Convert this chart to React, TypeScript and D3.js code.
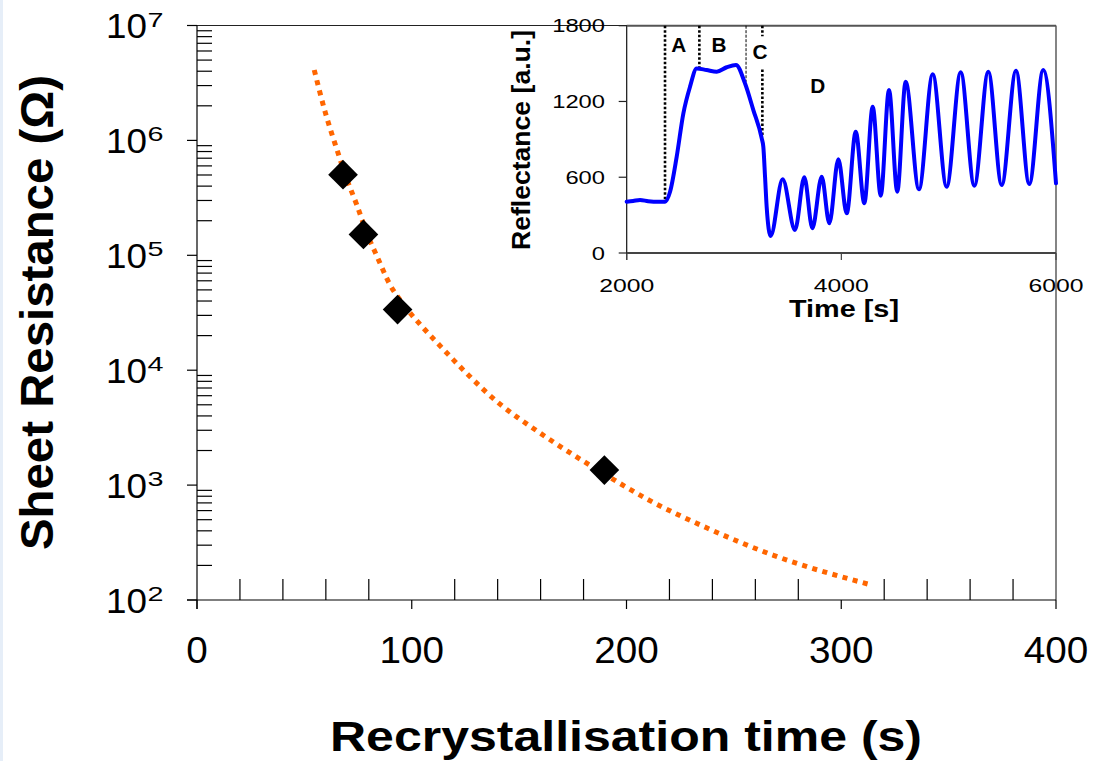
import React from "react";
import * as d3 from "d3";

// ---------- Main chart data ----------
const measTime = [68, 77.5, 93.4, 189.7];
const measR = [5.03e5, 1.52e5, 3.37e4, 1.35e3];

const fitTime = [54.6, 59.7, 65.8, 68.9, 74.4, 79.5, 83.7, 89.9, 95.6, 105.4, 112.4, 119.4, 126.7, 133.8, 141.4, 149.6, 157.9, 166.2, 187.7, 209.4, 237.3, 268.4, 313.4];
const fitR = [4.1e6, 1.76e6, 7.64e5, 5.08e5, 2.75e5, 1.49e5, 9.91e4, 5.53e4, 3.84e4, 2.33e4, 1.69e4, 1.23e4, 8950, 6670, 5010, 3840, 3000, 2355, 1318, 759, 425, 245, 136];

const xTicks = [0, 100, 200, 300, 400];
const xMinorTicks = [20, 40, 60, 80, 120, 140, 160, 180, 220, 240, 260, 280, 320, 340, 360, 380];
const yDecades = [2, 3, 4, 5, 6, 7];

// ---------- Inset data ----------
const inTime = [2000, 2060, 2124, 2200, 2300, 2357, 2404, 2466, 2528, 2590, 2652, 2745, 2839, 2932, 3018, 3102, 3180, 3258, 3273, 3289, 3304, 3341, 3453, 3568, 3655, 3730, 3817, 3888, 3972, 4050, 4134, 4214, 4292, 4367, 4444, 4521, 4599, 4723, 4851, 4981, 5112, 5239, 5369, 5494, 5627, 5751, 5881, 6000];
const inRefl = [406, 412, 420, 410, 405, 406, 485, 763, 1106, 1317, 1462, 1449, 1436, 1471, 1489, 1344, 1132, 908, 841, 604, 367, 135, 584, 182, 599, 196, 604, 235, 742, 314, 961, 394, 1159, 454, 1291, 486, 1357, 504, 1415, 525, 1431, 533, 1436, 539, 1444, 546, 1449, 552];

const inXTicks = [2000, 4000, 6000];
const inYTicks = [0, 600, 1200, 1800];

const phaseLabels = ["A", "B", "C", "D"];
const phaseLabelT = [2484, 2860, 3242, 3781];
const phaseLabelR = [1594, 1594, 1534, 1265];

// dotted phase boundaries: time, top, bottom
const boundT = [2357, 2677, 3112, 3264, 3264];
const boundTop = [1800, 1800, 1800, 1800, 1453];
const boundBot = [406, 1470, 1356, 1717, 920];
const boundThin = [false, false, true, false, false];

const FONT = "'Liberation Sans', Arial, Helvetica, sans-serif";

export default function App() {
  const W = 1104, H = 761;
  const x = d3.scaleLinear().domain([0, 400]).range([197, 1056]);
  const y = d3.scaleLog().domain([100, 1e7]).range([600, 25.5]);

  const xi = d3.scaleLinear().domain([2000, 6000]).range([626.7, 1056]);
  const yi = d3.scaleLinear().domain([0, 1800]).range([253, 25.7]);

  const fitLine = d3
    .line<number>()
    .x((_, i) => x(fitTime[i]))
    .y((d) => y(d))
    .curve(d3.curveMonotoneX)(fitR) as string;

  const inLine = d3
    .line<number>()
    .x((_, i) => xi(inTime[i]))
    .y((d) => yi(d))
    .curve(d3.curveMonotoneX)(inRefl) as string;

  const diamond = d3.symbol().type(d3.symbolSquare).size(440)() as string;

  const minorY: number[] = [];
  yDecades.slice(0, -1).forEach((e) => {
    for (let k = 2; k <= 9; k++) minorY.push(k * Math.pow(10, e));
  });

  const x0 = x(0), y0 = y(100), yTop = y(1e7), xR = x(400);

  return (
    <svg
      width={W}
      height={H}
      style={{ position: "absolute", left: 0, top: 0, background: "#fff" }}
      fontFamily={FONT}
    >
      <rect x={0} y={0} width={W} height={H} fill="#fff" />
      <rect x={0} y={0} width={3} height={H} fill="#e6eef8" />

      {/* main frame */}
      <line x1={187} x2={xR} y1={yTop} y2={yTop} stroke="#222" strokeWidth={1.2} />
      <line x1={xR} x2={xR} y1={yTop} y2={y0} stroke="#333" strokeWidth={1.2} />
      <line x1={x0} x2={x0} y1={yTop} y2={y0 + 9} stroke="#000" strokeWidth={1.2} />
      <line x1={187} x2={xR} y1={y0} y2={y0} stroke="#000" strokeWidth={1.2} />

      {/* y ticks */}
      {yDecades.map((e) => (
        <line key={"yt" + e} x1={187} x2={x0} y1={y(Math.pow(10, e))} y2={y(Math.pow(10, e))} stroke="#000" strokeWidth={1.2} />
      ))}
      {minorY.map((v, i) => (
        <line key={"ym" + i} x1={x0} x2={x0 + 15} y1={y(v)} y2={y(v)} stroke="#000" strokeWidth={1.2} />
      ))}
      {yDecades.map((e) => (
        <g key={"yl" + e}>
          <text x={147} y={y(Math.pow(10, e)) + 12.5} fontSize={35} textAnchor="end" textLength={41} lengthAdjust="spacingAndGlyphs" fill="#000">
            10
          </text>
          <text x={147.5} y={y(Math.pow(10, e)) + 1} fontSize={21} textAnchor="start" textLength={16} lengthAdjust="spacingAndGlyphs" fill="#000">
            {e}
          </text>
        </g>
      ))}

      {/* x ticks */}
      {xTicks.map((v) => (
        <line key={"xt" + v} x1={x(v)} x2={x(v)} y1={y0} y2={y0 + 9} stroke="#000" strokeWidth={1.2} />
      ))}
      {xMinorTicks.map((v) => (
        <line key={"xm" + v} x1={x(v)} x2={x(v)} y1={y0 - 21} y2={y0} stroke="#000" strokeWidth={1.2} />
      ))}
      {xTicks.map((v) => (
        <text key={"xl" + v} x={x(v)} y={663} fontSize={37} textAnchor="middle" textLength={String(v).length * 21.5} lengthAdjust="spacingAndGlyphs" fill="#000">
          {v}
        </text>
      ))}

      {/* axis titles */}
      <text x={626} y={751} fontSize={42} fontWeight="bold" textAnchor="middle" textLength={592} lengthAdjust="spacingAndGlyphs" fill="#000">
        Recrystallisation time (s)
      </text>
      <text transform="translate(53,312.5) rotate(-90)" fontSize={47} fontWeight="bold" textAnchor="middle" textLength={475} lengthAdjust="spacingAndGlyphs" fill="#000">
        Sheet Resistance (Ω)
      </text>

      {/* fit curve */}
      <path d={fitLine} fill="none" stroke="#FF6600" strokeWidth={5} strokeDasharray="5,5.5" />

      {/* measured points */}
      {measR.map((v, i) => (
        <path key={"pt" + i} d={diamond} transform={`translate(${x(measTime[i])},${y(v)}) rotate(45)`} fill="#000" />
      ))}

      {/* ---------- inset ---------- */}
      <line x1={xi(2000)} x2={xi(2000)} y1={yi(1800)} y2={yi(0) + 7} stroke="#111" strokeWidth={1.2} />
      <line x1={xi(2000)} x2={xi(6000)} y1={yi(0)} y2={yi(0)} stroke="#444" strokeWidth={2} />
      <line x1={xi(2000)} x2={xi(6000)} y1={yi(1800)} y2={yi(1800)} stroke="#555" strokeWidth={2} />
      {inXTicks.map((v) => (
        <line key={"ixt" + v} x1={xi(v)} x2={xi(v)} y1={yi(0)} y2={yi(0) + 7} stroke="#444" strokeWidth={1.2} />
      ))}
      {inYTicks.map((v) => (
        <line key={"iyt" + v} x1={xi(2000) - 8} x2={xi(2000)} y1={yi(v)} y2={yi(v)} stroke="#222" strokeWidth={1.2} />
      ))}
      {inYTicks.map((v) => (
        <text key={"iyl" + v} x={605} y={yi(v) + 6.5} fontSize={19} textAnchor="end" textLength={String(v).length * 13.2} lengthAdjust="spacingAndGlyphs" fill="#000">
          {v}
        </text>
      ))}
      {inXTicks.map((v) => (
        <text key={"ixl" + v} x={xi(v)} y={292} fontSize={19} textAnchor="middle" textLength={55} lengthAdjust="spacingAndGlyphs" fill="#000">
          {v}
        </text>
      ))}
      <text x={844} y={317} fontSize={23} fontWeight="bold" textAnchor="middle" textLength={110} lengthAdjust="spacingAndGlyphs" fill="#000">
        Time [s]
      </text>
      <text transform="translate(530,140) rotate(-90)" fontSize={25} fontWeight="bold" textAnchor="middle" textLength={220} lengthAdjust="spacingAndGlyphs" fill="#000">
        Reflectance [a.u.]
      </text>

      {/* phase boundaries */}
      {boundT.map((t, i) => (
        <line
          key={"b" + i}
          x1={xi(t)}
          x2={xi(t)}
          y1={yi(boundTop[i])}
          y2={yi(boundBot[i])}
          stroke="#000"
          strokeWidth={boundThin[i] ? 1 : 2.6}
          strokeDasharray={boundThin[i] ? "3,1.5" : "2.5,2"}
        />
      ))}
      {phaseLabels.map((l, i) => (
        <text key={"pl" + l} x={xi(phaseLabelT[i])} y={yi(phaseLabelR[i])} fontSize={20} fontWeight="bold" textAnchor="middle" textLength={15} lengthAdjust="spacingAndGlyphs" fill="#000">
          {l}
        </text>
      ))}

      <path d={inLine} fill="none" stroke="#0000FF" strokeWidth={4} strokeLinejoin="round" strokeLinecap="round" />
    </svg>
  );
}
